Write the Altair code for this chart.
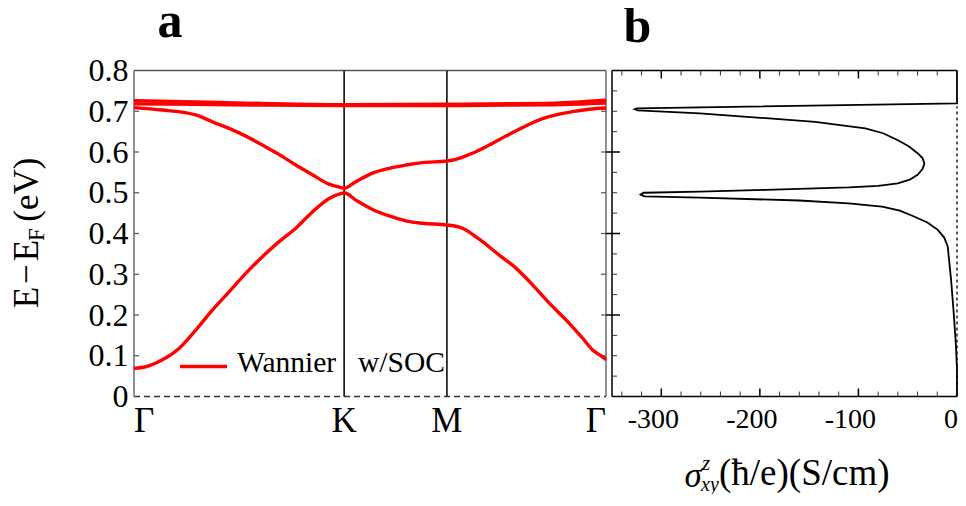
import altair as alt
import pandas as pd

FONT = "Liberation Serif"

# ---------------- panel a : band structure along Γ–K–M–Γ ----------------
k_ticks = [0.0, 210.0, 312.7, 471.7]
k_names = ["Γ", "K", "M", "Γ"]

flat1_k = [0.0, 62.0, 128.0, 210.0, 305.0, 420.0, 471.7]
flat1_E = [0.726, 0.723, 0.719, 0.716, 0.717, 0.720, 0.727]
flat2_k = [0.0, 62.0, 128.0, 210.0, 305.0, 420.0, 471.7]
flat2_E = [0.718, 0.717, 0.715, 0.714, 0.714, 0.716, 0.720]

upper_k = [0, 28.3, 61.7, 78.3, 95, 111.7, 128.3, 145, 161.7, 178.3,
           195, 208.3, 210, 221.7, 238.3, 255, 271.7, 288.3, 312.7, 321.7,
           338.3, 355, 371.7, 388.3, 405, 421.7, 438.3, 455, 471.7]
upper_E = [0.709, 0.703, 0.691, 0.674, 0.658, 0.639, 0.617, 0.594, 0.568, 0.544,
           0.521, 0.512, 0.511, 0.527, 0.548, 0.560, 0.568, 0.574, 0.578, 0.582,
           0.597, 0.617, 0.639, 0.660, 0.679, 0.691, 0.699, 0.705, 0.708]

lower_k = [0, 11.7, 28.3, 45, 61.7, 78.3, 95, 111.7, 128.3, 145,
           161.7, 178.3, 195, 208.3, 210, 221.7, 238.3, 255, 271.7, 288.3,
           312.7, 328.3, 345, 365, 381.7, 398.3, 415, 431.7, 448.3, 458.3,
           470, 471.7]
lower_E = [0.069, 0.073, 0.090, 0.118, 0.163, 0.212, 0.257, 0.302, 0.343, 0.380,
           0.413, 0.453, 0.486, 0.499, 0.500, 0.482, 0.459, 0.443, 0.431, 0.425,
           0.421, 0.413, 0.386, 0.347, 0.315, 0.274, 0.229, 0.188, 0.143, 0.114,
           0.094, 0.090]

# ---------------- panel b : spin Hall conductivity vs energy ----------------
shc_sigma = [0, 0, -325, -327, -324, -261, -194, -144, -93, -75,
             -60, -49, -40, -35, -33, -35, -40, -48, -60, -80,
             -110, -194, -261, -318, -321, -317, -261, -160, -110, -76,
             -58, -43, -30, -19.5, -13, -9.4, -6, -3.3, -1, 0,
             0]
shc_E = [0.800, 0.7195, 0.707, 0.705, 0.702, 0.695, 0.683, 0.674, 0.658, 0.646,
         0.629, 0.614, 0.597, 0.585, 0.572, 0.558, 0.544, 0.532, 0.523, 0.517,
         0.513, 0.507, 0.503, 0.500, 0.4955, 0.491, 0.488, 0.481, 0.474, 0.466,
         0.456, 0.441, 0.427, 0.409, 0.390, 0.368, 0.286, 0.204, 0.122, 0.065,
         0.0]

y_ticks = [0.0, 0.1, 0.2, 0.3, 0.4, 0.5, 0.6, 0.7, 0.8]
b_x_labels = [-300, -200, -100]
b_x_major = [-300, -200, -100]
b_x_minor = [-340, -320, -280, -260, -240, -220, -180, -160, -140, -120, -80, -60, -40, -20]
b_y_major = [0.2, 0.4, 0.6]
b_y_minor = [0.05, 0.1, 0.15, 0.25, 0.3, 0.35, 0.45, 0.5, 0.55, 0.65, 0.7, 0.75]

# ---------------- geometry (plot-area pixels) ----------------
WA = 472          # panel a width
GAP = 6           # gap between panels
WB = 345          # panel b width
W = WA + GAP + WB
H = 326
BX0 = WA + GAP    # left edge of panel b
FRAME_A = "#555555"
RED = "#ff0000"

rows = []
for name, ks, es in [("flat1", flat1_k, flat1_E), ("flat2", flat2_k, flat2_E),
                     ("upper", upper_k, upper_E), ("lower", lower_k, lower_E)]:
    for k, e in zip(ks, es):
        rows.append({"band": name, "k": k, "E": e})
bands = pd.DataFrame(rows)

sc_a = alt.Scale(domain=[0, 471.7], range=[0, WA], nice=False, zero=False)
sc_b = alt.Scale(domain=[-350, 0], range=[BX0, W], nice=False, zero=False)
xa = alt.X("k:Q", scale=sc_a, axis=None)
xb = alt.X("s:Q", scale=sc_b, axis=None)
ya = alt.Y("E:Q", scale=alt.Scale(domain=[0, 0.8], nice=False, zero=False),
           axis=alt.Axis(values=y_ticks,
                         labelExpr="datum.value == 0 ? '0' : format(datum.value, '.1f')",
                         ticks=False, tickSize=0, domain=False, grid=False,
                         labelFont=FONT, labelFontSize=32, labelColor="black",
                         labelPadding=6, labelFlush=False, title=None))


def txt(s, x, y, size, **kw):
    return alt.Chart(pd.DataFrame({"t": [s]})).mark_text(
        font=FONT, fontSize=size, color="black", baseline="alphabetic", **kw).encode(
        x=alt.value(x), y=alt.value(y), text="t:N")


# ---- panel a layers ----
frame_a = [
    alt.Chart(pd.DataFrame({"k": [0.0], "k2": [471.7], "E": [0.8]})).mark_rule(
        color=FRAME_A, strokeWidth=1.3).encode(x=xa, x2="k2:Q", y=ya),
    alt.Chart(pd.DataFrame({"k": [0.0, 471.7]})).mark_rule(color=FRAME_A, strokeWidth=1.3).encode(x=xa),
    alt.Chart(pd.DataFrame({"k": [0.0], "k2": [471.7], "E": [0.0]})).mark_rule(
        color="#333333", strokeWidth=1.3, strokeDash=[6, 4]).encode(x=xa, x2="k2:Q", y=ya),
    alt.Chart(pd.DataFrame({"k": k_ticks[1:3]})).mark_rule(color="#1a1a1a", strokeWidth=1.7).encode(x=xa),
    alt.Chart(pd.DataFrame({"E": y_ticks[1:-1]})).mark_rule(color=FRAME_A, strokeWidth=1.2).encode(
        y=ya, x=alt.value(0), x2=alt.value(5)),
    alt.Chart(pd.DataFrame({"E": y_ticks[1:-1]})).mark_rule(color=FRAME_A, strokeWidth=1.2).encode(
        y=ya, x=alt.value(WA), x2=alt.value(WA - 5)),
]

band_lines = alt.Chart(bands).mark_line(color=RED, strokeWidth=3.4, interpolate="monotone").encode(
    x=xa, y=ya, detail="band:N", order="k:Q")

kdf = pd.DataFrame({"k": k_ticks, "name": k_names})
klabels = [
    alt.Chart(kdf.iloc[[0]]).mark_text(font=FONT, fontSize=35, align="left", baseline="alphabetic",
                                       color="black").encode(x=xa, y=alt.value(361.5), text="name:N"),
    alt.Chart(kdf.iloc[1:3]).mark_text(font=FONT, fontSize=35, align="center", baseline="alphabetic",
                                       color="black").encode(x=xa, y=alt.value(361.5), text="name:N"),
    alt.Chart(kdf.iloc[[3]]).mark_text(font=FONT, fontSize=35, align="right", baseline="alphabetic",
                                       color="black").encode(x=xa, y=alt.value(361.5), text="name:N"),
]

legend = [
    alt.Chart(pd.DataFrame({"t": ["x"]})).mark_rule(color=RED, strokeWidth=3.4).encode(
        x=alt.value(46), x2=alt.value(93), y=alt.value(296)),
    txt("Wannier", 103, 301.5, 29.5, align="left"),
    txt("w/SOC", 224, 301.5, 29.5, align="left"),
]

titles_a = [
    txt("a", 36, -33.5, 50, align="center", fontWeight="bold"),
    txt("E\u200a−\u200aE", -95.7, 237.8, 35, align="left", angle=270),
    txt("F", -89.7, 170.5, 23, align="left", angle=270),
    txt("(eV)", -95.7, 151.2, 35, align="left", angle=270),
]

# ---- panel b layers ----
shc = pd.DataFrame({"s": shc_sigma, "E": shc_E, "i": list(range(len(shc_sigma)))})

frame_b = [
    alt.Chart(pd.DataFrame({"s": [-350]})).mark_rule(color="black", strokeWidth=1.5).encode(x=xb),
    alt.Chart(pd.DataFrame({"s": [-350, -350], "s2": [0, 0], "E": [0.0, 0.8]})).mark_rule(
        color="black", strokeWidth=1.5).encode(x=xb, x2="s2:Q", y=ya),
    alt.Chart(pd.DataFrame({"s": [0], "E": [0.0], "E2": [0.712]})).mark_rule(
        color="black", strokeWidth=1.3, strokeDash=[3, 3]).encode(x=xb, y=ya, y2="E2:Q"),
    alt.Chart(pd.DataFrame({"s": b_x_major})).mark_rule(color="black", strokeWidth=1.5).encode(
        x=xb, y=alt.value(H), y2=alt.value(H - 8)),
    alt.Chart(pd.DataFrame({"s": b_x_major})).mark_rule(color="black", strokeWidth=1.5).encode(
        x=xb, y=alt.value(0), y2=alt.value(8)),
    alt.Chart(pd.DataFrame({"s": b_x_minor})).mark_rule(color="#333333", strokeWidth=1).encode(
        x=xb, y=alt.value(H), y2=alt.value(H - 5)),
    alt.Chart(pd.DataFrame({"s": b_x_minor})).mark_rule(color="#333333", strokeWidth=1).encode(
        x=xb, y=alt.value(0), y2=alt.value(5)),
    alt.Chart(pd.DataFrame({"E": b_y_major})).mark_rule(color="black", strokeWidth=1.5).encode(
        y=ya, x=alt.value(BX0 - 6), x2=alt.value(BX0 + 8)),
    alt.Chart(pd.DataFrame({"E": b_y_minor})).mark_rule(color="#333333", strokeWidth=1).encode(
        y=ya, x=alt.value(BX0), x2=alt.value(BX0 + 5)),
]

shc_line = alt.Chart(shc).mark_line(color="black", strokeWidth=1.8, interpolate="linear").encode(
    x=xb, y=ya, order="i:Q")

bdf = pd.DataFrame({"s": b_x_labels, "lab": [str(v) for v in b_x_labels]})
blabels = [
    alt.Chart(bdf).mark_text(font=FONT, fontSize=28, align="center", baseline="alphabetic", dx=-8,
                             color="black").encode(x=xb, y=alt.value(357.5), text="lab:N"),
    alt.Chart(pd.DataFrame({"s": [0], "lab": ["0"]})).mark_text(
        font=FONT, fontSize=28, align="right", baseline="alphabetic", dx=1,
        color="black").encode(x=xb, y=alt.value(357.5), text="lab:N"),
]

titles_b = [
    txt("b", BX0 + 25.5, -29, 50, align="center", fontWeight="bold"),
    txt("σ", BX0 + 72.5, 416.5, 35, align="left", fontStyle="italic"),
    txt("z", BX0 + 90, 399.5, 21, align="left", fontStyle="italic"),
    txt("xy", BX0 + 89, 420, 20, align="left", fontStyle="italic"),
    txt("(ħ/e)(S/cm)", BX0 + 107, 414, 37, align="left"),
]

chart = alt.layer(
    *frame_a, band_lines, *klabels, *legend, *titles_a,
    *frame_b, shc_line, *blabels, *titles_b,
).resolve_scale(x="independent").properties(
    width=W, height=H,
    autosize=alt.AutoSizeParams(type="none"),
    padding={"left": 126, "top": 62.5, "right": 1, "bottom": 97},
).configure_view(stroke=None)

chart.save("out.html", embed_options={"renderer": "svg", "actions": False})
